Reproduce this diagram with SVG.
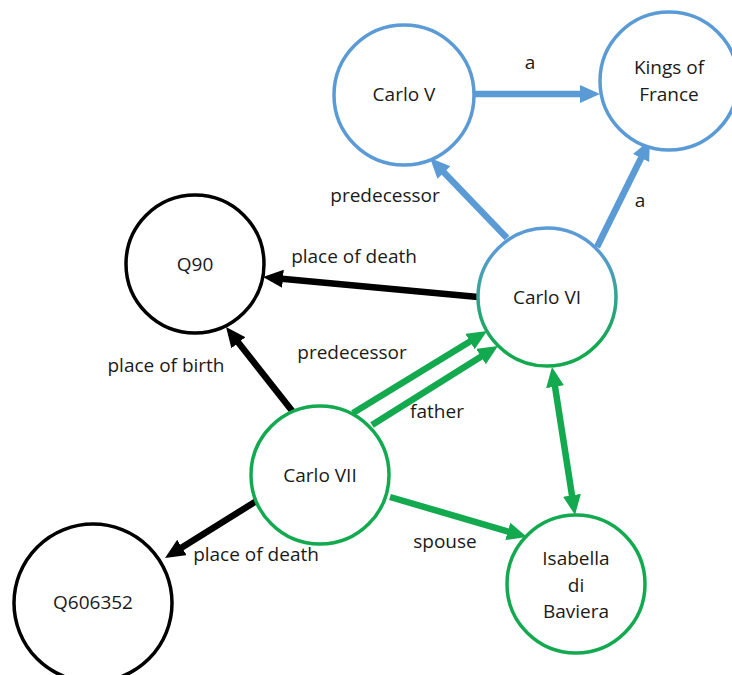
<svg xmlns="http://www.w3.org/2000/svg" width="732" height="675" viewBox="0 0 732 675">
  <style>
    .node { fill: #ffffff; stroke-width: 3.5; }
    .blue { stroke: #5B9BD5; }
    .green { stroke: #12A94F; }
    .black { stroke: #000000; }
    .grad { stroke: url(#blueToGreen); }
    text { font-family: "Open Sans", "Noto Sans", "Liberation Sans", sans-serif; font-size: 19px; fill: #1a1a1a; text-anchor: middle; }
    .edge { fill: none; stroke-width: 6.5; }
  </style>
  <defs>
    <linearGradient id="blueToGreen" x1="0" y1="0" x2="0" y2="1">
      <stop offset="0.15" stop-color="#5B9BD5"/>
      <stop offset="0.85" stop-color="#12A94F"/>
    </linearGradient>
    <marker id="arrowBlue" markerUnits="userSpaceOnUse" markerWidth="22" markerHeight="20" refX="12" refY="9" orient="auto-start-reverse">
      <path d="M0,0 L20,9 L0,18 z" fill="#5B9BD5"/>
    </marker>
    <marker id="arrowGreen" markerUnits="userSpaceOnUse" markerWidth="22" markerHeight="20" refX="12" refY="9" orient="auto-start-reverse">
      <path d="M0,0 L20,9 L0,18 z" fill="#12A94F"/>
    </marker>
    <marker id="arrowBlack" markerUnits="userSpaceOnUse" markerWidth="22" markerHeight="20" refX="12" refY="9" orient="auto-start-reverse">
      <path d="M0,0 L20,9 L0,18 z" fill="#000000"/>
    </marker>
  </defs>

  <!-- connectors -->
  <g id="connectors">
    <line class="edge blue" x1="475" y1="94" x2="592" y2="94" marker-end="url(#arrowBlue)"/>
    <line class="edge blue" x1="507" y1="238" x2="435.6" y2="163.8" marker-end="url(#arrowBlue)"/>
    <line class="edge blue" x1="597" y1="247" x2="646.4" y2="147.2" marker-end="url(#arrowBlue)"/>
    <line class="edge black" x1="478" y1="297" x2="271" y2="277.7" marker-end="url(#arrowBlack)"/>
    <line class="edge black" x1="293" y1="412" x2="231" y2="333.3" marker-end="url(#arrowBlack)"/>
    <line class="edge green" x1="353" y1="413" x2="480.2" y2="335.2" marker-end="url(#arrowGreen)"/>
    <line class="edge green" x1="372" y1="425" x2="491.2" y2="350.2" marker-end="url(#arrowGreen)"/>
    <line class="edge green" x1="553.2" y1="374.9" x2="573.8" y2="507.1" marker-start="url(#arrowGreen)" marker-end="url(#arrowGreen)"/>
    <line class="edge green" x1="390" y1="497" x2="519.3" y2="534.8" marker-end="url(#arrowGreen)"/>
    <line class="edge black" x1="258" y1="500" x2="171.8" y2="553.8" marker-end="url(#arrowBlack)"/>

    <text x="530" y="69">a</text>
    <text x="385" y="202">predecessor</text>
    <text x="640" y="207">a</text>
    <text x="354" y="263">place of death</text>
    <text x="352" y="359">predecessor</text>
    <text x="166" y="372">place of birth</text>
    <text x="437" y="418">father</text>
    <text x="445" y="548">spouse</text>
    <text x="256" y="561">place of death</text>
  </g>

  <g id="carlo-v">
    <circle class="node blue" cx="404" cy="95" r="70"/>
    <text x="404" y="101">Carlo V</text>
  </g>
  <g id="kings-of-france">
    <circle class="node blue" cx="669" cy="81" r="69"/>
    <text x="669" y="74">Kings of</text>
    <text x="669" y="101">France</text>
  </g>
  <g id="q90">
    <circle class="node black" cx="195" cy="264" r="69"/>
    <text x="195" y="271">Q90</text>
  </g>
  <g id="carlo-vi">
    <circle class="node grad" cx="547" cy="297" r="69"/>
    <text x="547" y="304">Carlo VI</text>
  </g>
  <g id="carlo-vii">
    <circle class="node green" cx="320" cy="475" r="69"/>
    <text x="320" y="482">Carlo VII</text>
  </g>
  <g id="q606352">
    <circle class="node black" cx="93" cy="603" r="79"/>
    <text x="93" y="609">Q606352</text>
  </g>
  <g id="isabella-di-baviera">
    <circle class="node green" cx="576" cy="584" r="69"/>
    <text x="576" y="565">Isabella</text>
    <text x="576" y="592">di</text>
    <text x="576" y="618">Baviera</text>
  </g>
</svg>
